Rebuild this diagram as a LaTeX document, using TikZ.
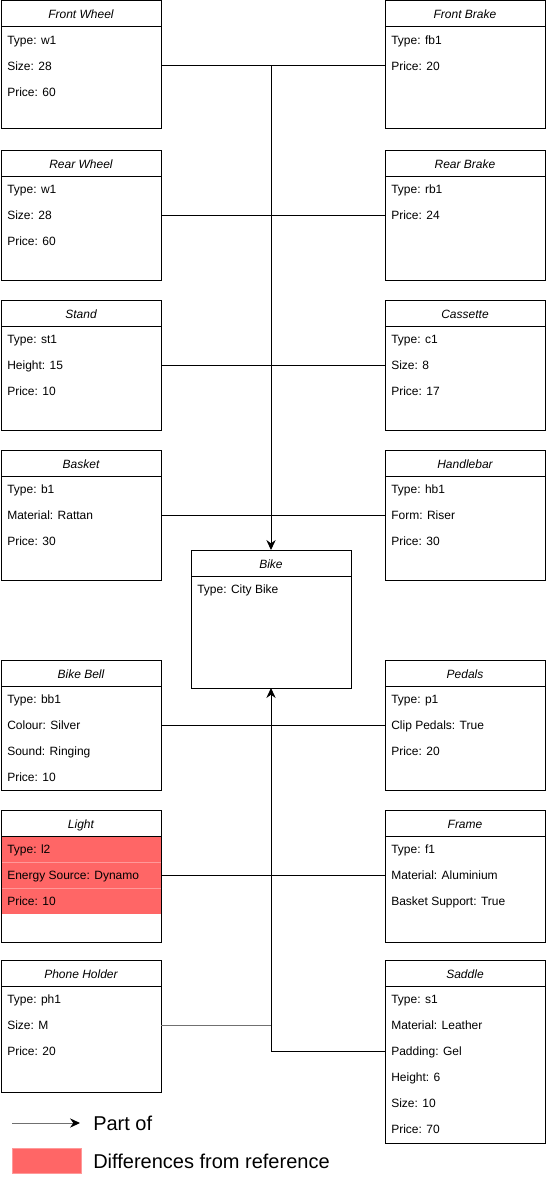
\documentclass[tikz,border=0pt]{standalone}
\usepackage{fontspec}
\setmainfont{Liberation Sans}
\usetikzlibrary{arrows.meta,calc}
\definecolor{diffred}{HTML}{FF6666}
\definecolor{diffline}{HTML}{FF9999}
\definecolor{conngray}{HTML}{707070}
\tikzset{
 boxst/.style={draw=black, line width=0.75pt, minimum width=120pt, anchor=north west, inner sep=0pt, outer sep=0pt},
 hdr/.style={font=\fontsize{9}{10}\selectfont\itshape, inner sep=0pt, anchor=base},
 rowst/.style={font=\fontsize{9}{10}\selectfont, anchor=base west, inner sep=0pt},
 conn/.style={line width=0.75pt, draw=black},
 grayconn/.style={line width=0.75pt, draw=conngray},
 partof/.style={conn, -{Stealth[length=7.5pt,width=7pt,inset=2.5pt]}},
 legtext/.style={font=\fontsize{15}{17}\selectfont, anchor=base west, inner sep=0pt},
}
\newcommand{\umlbox}[6]{%
 \node[boxst, minimum height=#4*0.75pt] (#1) at (#2,#3) {};
 \node[hdr] (#1-t) at ({#2+80},{#3+18}) {#5};
 \draw[conn] ($(#1.north west)+(0,26)$) -- ($(#1.north east)+(0,26)$);
 \foreach \t [count=\i] in {#6} {\node[rowst] (#1-r\i) at ({#2+6},{#3+17.3+26*\i}) {\t};}
}
\begin{document}
\begin{tikzpicture}[x=0.75pt,y=-0.75pt]
\useasboundingbox (0,0) rectangle (546,1181);
% left column
\umlbox{fw}{1}{1}{127}{Front Wheel}{Type: w1,Size: 28,Price: 60}
\umlbox{rw}{1}{150}{130}{Rear Wheel}{Type: w1,Size: 28,Price: 60}
\umlbox{st}{1}{300}{130}{Stand}{Type: st1,Height: 15,Price: 10}
\umlbox{ba}{1}{450}{130}{Basket}{Type: b1,Material: Rattan,Price: 30}
\umlbox{bb}{1}{660}{130}{Bike Bell}{Type: bb1,Colour: Silver,Sound: Ringing,Price: 10}
% light with highlighted rows
\fill[diffred] (1,836) rectangle (161,914);
\draw[diffline, line width=0.5pt] (1,862) -- (161,862);
\draw[diffline, line width=0.5pt] (1,888) -- (161,888);
\umlbox{li}{1}{810}{132}{Light}{Type: l2,Energy Source: Dynamo,Price: 10}
\umlbox{ph}{1}{960}{132}{Phone Holder}{Type: ph1,Size: M,Price: 20}
% right column
\umlbox{fb}{385}{1}{127}{Front Brake}{Type: fb1,Price: 20}
\umlbox{rb}{385}{150}{130}{Rear Brake}{Type: rb1,Price: 24}
\umlbox{ca}{385}{300}{130}{Cassette}{Type: c1,Size: 8,Price: 17}
\umlbox{hb}{385}{450}{130}{Handlebar}{Type: hb1,Form: Riser,Price: 30}
\umlbox{pe}{385}{660}{130}{Pedals}{Type: p1,Clip Pedals: True,Price: 20}
\umlbox{fr}{385}{810}{132}{Frame}{Type: f1,Material: Aluminium,Basket Support: True}
\umlbox{sd}{385}{960}{183}{Saddle}{Type: s1,Material: Leather,Padding: Gel,Height: 6,Size: 10,Price: 70}
% bike
\umlbox{bike}{191}{550}{138}{Bike}{Type: City Bike}
% junction rows (row centres)
\foreach \n/\r in {fw/2,rw/2,st/2,ba/2,bb/2,li/2,ph/2,fb/2,rb/2,ca/2,hb/2,pe/2,fr/2,sd/3}
  {\coordinate (\n-c\r) at ($(\n-r\r.base)+(0,-4.3)$);}
% top connectors
\coordinate (jt) at (bike.north |- fw-c2);
\draw[conn] (fw.east |- fw-c2) -- (fb.west |- fb-c2);
\draw[conn] (rw.east |- rw-c2) -- (rb.west |- rb-c2);
\draw[conn] (st.east |- st-c2) -- (ca.west |- ca-c2);
\draw[conn] (ba.east |- ba-c2) -- (hb.west |- hb-c2);
\draw[partof] (jt) -- (bike.north);
% bottom connectors
\coordinate (jb) at (bike.south |- sd-c3);
\coordinate (jp) at (bike.south |- ph-c2);
\draw[conn] (bb.east |- bb-c2) -- (pe.west |- pe-c2);
\draw[conn] (li.east |- li-c2) -- (fr.west |- fr-c2);
\draw[grayconn] (ph.east |- ph-c2) -- (jp);
\draw[conn] (jb) -- (sd.west |- sd-c3);
\draw[partof] (jb) -- (bike.south);
% legend
\coordinate (la) at (12,1123);
\coordinate (lb) at (80,1123);
\draw[grayconn, -{Stealth[black,length=7.5pt,width=7pt,inset=2.5pt]}] (la) -- (lb);
\node[legtext] (lt1) at (93,1130) {Part of};
\node[fill=diffred, draw=diffline, line width=0.5pt, minimum width=51.75pt, minimum height=18.75pt, anchor=north west, inner sep=0pt] (lr) at (12,1148) {};
\node[legtext] (lt2) at (93,1168) {Differences from reference};
\end{tikzpicture}
\end{document}
